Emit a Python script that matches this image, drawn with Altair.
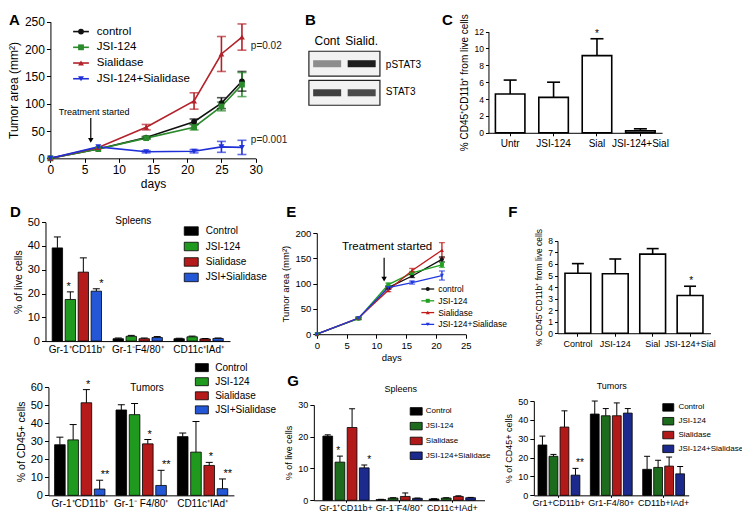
import altair as alt
import pandas as pd

FONT = "Liberation Sans"

# ===================== DATA =====================
# Panel A : tumour growth
A_days = [0, 7, 14, 21, 25, 28]
A_series = ["control", "JSI-124", "Sialidase", "JSI-124+Sialidase"]
A_control = [0, 17, 38, 67, 101, 141]
A_control_sem = [0, 0, 2, 5, 10, 18]
A_jsi = [0, 17, 37, 57, 95, 135]
A_jsi_sem = [0, 0, 2, 5, 8, 22]
A_sial = [0, 20, 57, 105, 191, 222]
A_sial_sem = [0, 0, 5, 15, 32, 24]
A_combo = [0, 21, 12, 13, 21, 20]
A_combo_sem = [0, 0, 2, 3, 10, 13]
A_pvalue_text = ["p=0.02", "p=0.001"]
A_pvalue_day = [29.3, 29.3]
A_pvalue_y = [206, 34]
A_note_text = ["Treatment started"]
A_note_day = [6.4]
A_note_y = [84]
A_arrow_day = [5.9]
A_arrow_top = [74]
A_arrow_tip = [33]

# Panel B : western blot
B_lanes = ["Cont", "Sialid."]
B_proteins = ["pSTAT3", "STAT3"]
B_band_lane = ["Cont", "Sialid.", "Cont", "Sialid."]
B_band_protein = ["pSTAT3", "pSTAT3", "STAT3", "STAT3"]
B_band_intensity = [0.45, 0.95, 0.8, 0.75]

# Panel C
C_cats = ["Untr", "JSI-124", "Sial", "JSI-124+Sial"]
C_vals = [4.6, 4.2, 9.15, 0.23]
C_hi = [6.25, 6.0, 11.15, 0.47]
C_star = ["", "", "*", ""]

# Panel D : spleens / tumors
D_series = ["Control", "JSI-124", "Sialidase", "JSI+Sialidase"]
D_spl_groups = ["Gr-1⁺CD11b⁺", "Gr-1⁻F4/80⁺", "CD11c⁺IAd⁺"]
D_spl_control = [39.2, 1.0, 1.0]
D_spl_control_hi = [43.8, 1.3, 1.2]
D_spl_jsi = [17.5, 2.0, 1.8]
D_spl_jsi_hi = [20.7, 2.4, 2.1]
D_spl_sial = [29.0, 1.0, 0.9]
D_spl_sial_hi = [35.0, 1.3, 1.1]
D_spl_combo = [21.0, 1.5, 1.1]
D_spl_combo_hi = [22.0, 1.9, 1.3]
D_spl_stars = [["", "", ""], ["*", "", ""], ["", "", ""], ["*", "", ""]]

D_tum_groups = ["Gr-1⁺CD11b⁺", "Gr-1⁻ F4/80⁺", "CD11c⁺IAd⁺"]
D_tum_control = [28.1, 47.4, 32.6]
D_tum_control_hi = [32.3, 50.3, 34.6]
D_tum_jsi = [30.8, 44.8, 24.0]
D_tum_jsi_hi = [39.3, 51.0, 41.0]
D_tum_sial = [51.4, 28.6, 16.6]
D_tum_sial_hi = [58.7, 31.0, 18.3]
D_tum_combo = [3.5, 5.5, 3.7]
D_tum_combo_hi = [8.4, 13.9, 9.1]
D_tum_stars = [["", "", ""], ["", "", ""], ["*", "*", "*"], ["**", "**", "**"]]

# Panel E : tumour growth (second model)
E_days = [0, 7, 12, 16, 21]
E_series = ["control", "JSI-124", "Sialidase", "JSI-124+Sialidase"]
E_control = [0, 31, 92, 115, 148]
E_control_sem = [0, 2, 3, 3, 5]
E_jsi = [0, 31, 98, 121, 137]
E_jsi_sem = [0, 2, 3, 3, 5]
E_sial = [0, 32, 87, 126, 166]
E_sial_sem = [0, 2, 3, 4, 15]
E_combo = [0, 32, 92, 102, 116]
E_combo_sem = [0, 2, 3, 3, 9]
E_note_text = ["Treatment started"]
E_note_day = [11.8]
E_note_y = [172]
E_arrow_day = [11.3]
E_arrow_top = [151]
E_arrow_tip = [109]

# Panel F
F_cats = ["Control", "JSI-124", "Sial", "JSI-124+Sial"]
F_vals = [5.2, 5.15, 6.85, 3.27]
F_hi = [6.03, 6.43, 7.33, 4.07]
F_star = ["", "", "", "*"]

# Panel G
G_series = ["Control", "JSI-124", "Sialidase", "JSI-124+Sialidase"]
G_spl_groups = ["Gr-1⁺CD11b+", "Gr-1⁻F4/80⁺", "CD11c+IAd+"]
G_spl_control = [20.2, 0.2, 0.4]
G_spl_control_hi = [20.6, 0.3, 0.5]
G_spl_jsi = [12.0, 0.7, 0.7]
G_spl_jsi_hi = [13.9, 0.8, 0.8]
G_spl_sial = [22.9, 1.2, 1.2]
G_spl_sial_hi = [28.8, 2.3, 1.4]
G_spl_combo = [10.2, 0.6, 0.8]
G_spl_combo_hi = [11.1, 0.7, 0.9]
G_spl_stars = [["", "", ""], ["*", "", ""], ["", "", ""], ["*", "", ""]]

G_tum_groups = ["Gr1+CD11b+", "Gr1-F4/80+", "CD11b+IAd+"]
G_tum_control = [26.7, 43.1, 13.8]
G_tum_control_hi = [31.4, 50.0, 20.7]
G_tum_jsi = [20.7, 42.2, 14.8]
G_tum_jsi_hi = [21.7, 46.0, 18.6]
G_tum_sial = [36.2, 42.2, 15.5]
G_tum_sial_hi = [44.8, 49.0, 20.3]
G_tum_combo = [10.7, 43.6, 11.4]
G_tum_combo_hi = [14.3, 46.0, 15.3]
G_tum_stars = [["", "", ""], ["", "", ""], ["", "", ""], ["**", "", ""]]

# ===================== LAYOUT HELPERS =====================
W, H = 734, 507
SX, SY = 734 / 744, 507 / 516


def px(x):
    return (x - 5) * SX


def py(y):
    return (y - 5) * SY


def left_off(x):
    return -px(x)


def bottom_off(y):
    return py(y) - H


def make_axis(orient, offset, lab_fs, title_fs, values=None, title=None, **extra):
    kw = dict(orient=orient, offset=offset, title=title, labelFontSize=lab_fs,
              titleFontSize=title_fs, labelAngle=0, labelOverlap=False,
              labelFlush=False, grid=False)
    if values is not None:
        kw["values"] = values
    kw.update(extra)
    return alt.Axis(**kw)


def text_at(text, x, y, size, weight="normal", align="left", baseline="middle"):
    return alt.Chart(pd.DataFrame({"t": [text]})).mark_text(
        align=align, baseline=baseline, fontSize=size, fontWeight=weight,
        font=FONT, color="black").encode(
        x=alt.value(px(x)), y=alt.value(py(y)), text="t:N")


def line_panel(days, series, means, sems, colors, shapes, xr, yr, xdom, ydom,
               xticks, yticks, xtitle, ytitle, lab_fs, title_fs, pt_size, cap_w, sw,
               note_text, note_day, note_y, note_fs, arrow_day, arrow_top, arrow_tip):
    rows = []
    for s, m, e in zip(series, means, sems):
        for d, v, err in zip(days, m, e):
            rows.append({"series": s, "day": d, "value": v,
                         "lo": v - err, "hi": v + err, "err": err})
    df = pd.DataFrame(rows)
    xs = alt.Scale(domain=xdom, range=[px(xr[0]), px(xr[1])], nice=False, zero=False)
    ys = alt.Scale(domain=ydom, range=[py(yr[0]), py(yr[1])], nice=False, zero=False)
    cs = alt.Scale(domain=series, range=colors)
    ss = alt.Scale(domain=series, range=shapes)
    xa = make_axis("bottom", bottom_off(yr[0]), lab_fs, title_fs, xticks, xtitle,
                   tickSize=4, labelPadding=2, titlePadding=3)
    ya = make_axis("left", left_off(xr[0]), lab_fs, title_fs, yticks, ytitle,
                   tickSize=4, labelPadding=2, titlePadding=4)
    col = alt.Color("series:N", scale=cs, legend=None)

    def X(a=None):
        return alt.X("day:Q", scale=xs, axis=a)

    def Y(f, a=None):
        return alt.Y(f, scale=ys, axis=a)

    out = []
    out.append(alt.Chart(df).mark_line(strokeWidth=sw).encode(
        x=X(xa), y=Y("value:Q", ya), color=col))
    edf = df[df.err > 0]
    out.append(alt.Chart(edf).mark_rule(strokeWidth=sw).encode(
        x=X(), y=Y("lo:Q"), y2="hi:Q", color=col))
    for f in ["lo:Q", "hi:Q"]:
        out.append(alt.Chart(edf).mark_tick(orient="horizontal", size=cap_w, thickness=sw).encode(
            x=X(), y=Y(f), color=col))
    out.append(alt.Chart(df).mark_point(filled=True, size=pt_size, opacity=1).encode(
        x=X(), y=Y("value:Q"), color=col,
        shape=alt.Shape("series:N", scale=ss, legend=None)))
    # annotation: "Treatment started" + arrow
    ndf = pd.DataFrame({"t": note_text, "day": note_day, "y": note_y})
    out.append(alt.Chart(ndf).mark_text(fontSize=note_fs, font=FONT, color="black",
                                        baseline="middle").encode(
        x=X(), y=Y("y:Q"), text="t:N"))
    adf = pd.DataFrame({"day": arrow_day, "top": arrow_top, "tip": arrow_tip})
    out.append(alt.Chart(adf).mark_rule(color="black", strokeWidth=1.2).encode(
        x=X(), y=Y("top:Q"), y2="tip:Q"))
    out.append(alt.Chart(adf).mark_point(shape="triangle-down", filled=True, size=30,
                                         color="black", opacity=1).encode(
        x=X(), y=Y("tip:Q")))
    return out, X, Y


def line_legend(series, colors, shapes, x0, x1, xt, first, last, fs, pt_size, sw):
    df = pd.DataFrame({"series": series})
    ys = alt.Scale(type="point", domain=series, range=[py(first), py(last)], padding=0)
    cs = alt.Scale(domain=series, range=colors)
    ss = alt.Scale(domain=series, range=shapes)
    Y = alt.Y("series:N", scale=ys, axis=None)
    col = alt.Color("series:N", scale=cs, legend=None)
    return [
        alt.Chart(df).mark_rule(strokeWidth=sw).encode(
            x=alt.value(px(x0)), x2=alt.value(px(x1)), y=Y, color=col),
        alt.Chart(df).mark_point(filled=True, size=pt_size, opacity=1).encode(
            x=alt.value(px((x0 + x1) / 2)), y=Y, color=col,
            shape=alt.Shape("series:N", scale=ss, legend=None)),
        alt.Chart(df).mark_text(align="left", baseline="middle", fontSize=fs, font=FONT,
                                color="black").encode(
            x=alt.value(px(xt)), y=Y, text="series:N"),
    ]


def bar_legend(sym_left, sym_w, sym_h, fs, first, spacing, label_x):
    s = sym_h
    a = sym_w / s
    path = f"M-{a:.3f},-1H{a:.3f}V1H-{a:.3f}Z"
    rowh = max(s, fs)
    lx = px(sym_left + sym_w / 2) - s / 2
    return alt.Legend(orient="none", legendX=lx, legendY=py(first) - rowh / 2,
                      title=None, symbolType=path, symbolSize=s * s,
                      symbolStrokeColor="black", symbolStrokeWidth=0.8, symbolOpacity=1,
                      labelFontSize=fs, labelFont=FONT, labelColor="black",
                      rowPadding=spacing * SY - rowh, labelOffset=px(label_x) - lx - s,
                      padding=0, offset=0, labelLimit=0)


def grouped_panel(groups, series, vals, his, stars, colors, xr, pi, po, yr, ydom, yticks,
                  ytitle, lab_fs, xlab_fs, title_fs, cap_w, star_fs, legend, xticks_on,
                  sub_pi=0.2, bar_sw=0.8):
    rows = []
    for s, v, h, st in zip(series, vals, his, stars):
        for g, vv, hh, ss in zip(groups, v, h, st):
            rows.append({"group": g, "series": s, "value": vv, "hi": hh, "star": ss})
    df = pd.DataFrame(rows)
    xs = alt.Scale(domain=groups, range=[px(xr[0]), px(xr[1])], paddingInner=pi,
                   paddingOuter=po)
    os_ = alt.Scale(domain=series, paddingInner=sub_pi, paddingOuter=0)
    ys = alt.Scale(domain=ydom, range=[py(yr[0]), py(yr[1])], nice=False, zero=True)
    cs = alt.Scale(domain=series, range=colors)
    xa = make_axis("bottom", bottom_off(yr[0]), xlab_fs, title_fs, None, None,
                   ticks=xticks_on, tickSize=2, labelPadding=1 if xticks_on else 3)
    ya = make_axis("left", left_off(xr[0]), lab_fs, title_fs, yticks, ytitle,
                   tickSize=4, labelPadding=2, titlePadding=4)
    XO = alt.XOffset("series:N", scale=os_)

    def X(a=None):
        return alt.X("group:N", scale=xs, axis=a)

    def Y(f, a=None):
        return alt.Y(f, scale=ys, axis=a)

    out = [
        alt.Chart(df).mark_bar(stroke="black", strokeWidth=bar_sw).encode(
            x=X(xa), xOffset=XO, y=Y("value:Q", ya),
            color=alt.Color("series:N", scale=cs, legend=legend)),
        alt.Chart(df).mark_rule(color="black", strokeWidth=1).encode(
            x=X(), xOffset=XO, y=Y("value:Q"), y2="hi:Q"),
        alt.Chart(df).mark_tick(orient="horizontal", size=cap_w, thickness=1,
                                color="black", opacity=1).encode(
            x=X(), xOffset=XO, y=Y("hi:Q")),
        alt.Chart(df[df.star != ""]).mark_text(baseline="bottom", fontSize=star_fs,
                                               font=FONT, color="black").encode(
            x=X(), xOffset=XO, y=Y("hi:Q"), text="star:N"),
    ]
    return out


def single_panel(cats, vals, his, stars, xr, pi, po, yr, ydom, yticks, ytitle, lab_fs,
                 xlab_fs, title_fs, cap_w, star_fs):
    df = pd.DataFrame({"cat": cats, "value": vals, "hi": his, "star": stars})
    xs = alt.Scale(domain=cats, range=[px(xr[0]), px(xr[1])], paddingInner=pi,
                   paddingOuter=po)
    ys = alt.Scale(domain=ydom, range=[py(yr[0]), py(yr[1])], nice=False, zero=True)
    xa = make_axis("bottom", bottom_off(yr[0]), xlab_fs, title_fs, None, None,
                   ticks=True, tickSize=3, labelPadding=3)
    ya = make_axis("left", left_off(xr[0]), lab_fs, title_fs, yticks, ytitle,
                   tickSize=3, labelPadding=2, titlePadding=4)

    def X(a=None):
        return alt.X("cat:N", scale=xs, axis=a)

    def Y(f, a=None):
        return alt.Y(f, scale=ys, axis=a)

    return [
        alt.Chart(df).mark_bar(fill="white", stroke="black", strokeWidth=1.6).encode(
            x=X(xa), y=Y("value:Q", ya)),
        alt.Chart(df).mark_rule(color="black", strokeWidth=1.6).encode(
            x=X(), y=Y("value:Q"), y2="hi:Q"),
        alt.Chart(df).mark_tick(orient="horizontal", size=cap_w, thickness=1.6,
                                color="black", opacity=1).encode(x=X(), y=Y("hi:Q")),
        alt.Chart(df[df.star != ""]).mark_text(baseline="bottom", fontSize=star_fs,
                                               font=FONT, color="black").encode(
            x=X(), y=Y("hi:Q"), text="star:N"),
    ]


layers = []

# ---------- Panel A ----------
A_colors = ["#111111", "#2b8a2b", "#b3222a", "#2030d8"]
A_shapes = ["circle", "square", "triangle-up", "triangle-down"]
la, _, _ = line_panel(
    A_days, A_series, [A_control, A_jsi, A_sial, A_combo],
    [A_control_sem, A_jsi_sem, A_sial_sem, A_combo_sem], A_colors, A_shapes,
    (48, 256), (158, 19), [0, 30], [0, 250], list(range(0, 31, 5)),
    list(range(0, 251, 50)), "days", "Tumor area (mm²)", 12, 12, 34, 9, 1.6,
    A_note_text, A_note_day, A_note_y, 9, A_arrow_day, A_arrow_top, A_arrow_tip)
layers += la
# p-values
pv_df = pd.DataFrame({"t": A_pvalue_text, "day": A_pvalue_day, "y": A_pvalue_y})
A_xs = alt.Scale(domain=[0, 30], range=[px(48), px(256)], nice=False, zero=False)
A_ys = alt.Scale(domain=[0, 250], range=[py(158), py(19)], nice=False, zero=False)
layers.append(alt.Chart(pv_df).mark_text(align="left", baseline="middle", fontSize=10,
                                         font=FONT, color="#222").encode(
    x=alt.X("day:Q", scale=A_xs, axis=None), y=alt.Y("y:Q", scale=A_ys, axis=None),
    text="t:N"))
layers += line_legend(A_series, A_colors, A_shapes, 71, 87, 95, 29, 77, 11.5, 34, 1.6)

# ---------- Panel B (blot) ----------
blot_x = alt.Scale(domain=B_lanes, range=[px(311), px(381)], paddingInner=0.08,
                   paddingOuter=0.04)
blot_y = alt.Scale(domain=B_proteins, range=[py(49), py(104)], paddingInner=0.14,
                   paddingOuter=0)
layers.append(alt.Chart(pd.DataFrame({"protein": B_proteins})).mark_rect(
    fill="#f2f2f2", stroke="#222222", strokeWidth=1.2).encode(
    x=alt.value(px(310)), x2=alt.value(px(382)),
    y=alt.Y("protein:N", scale=blot_y, axis=None)))
layers.append(alt.Chart(pd.DataFrame({"lane": B_band_lane, "protein": B_band_protein,
                                      "intensity": B_band_intensity})).mark_tick(
    orient="horizontal", size=28, thickness=7, color="#111111").encode(
    x=alt.X("lane:N", scale=blot_x, axis=None),
    y=alt.Y("protein:N", scale=blot_y, axis=None),
    opacity=alt.Opacity("intensity:Q", scale=None)))
layers.append(alt.Chart(pd.DataFrame({"lane": B_lanes})).mark_text(
    fontSize=12, font=FONT, color="black", baseline="middle").encode(
    x=alt.X("lane:N", scale=blot_x, axis=None), y=alt.value(py(39)), text="lane:N"))
layers.append(alt.Chart(pd.DataFrame({"protein": B_proteins})).mark_text(
    fontSize=10, font=FONT, color="black", align="left", baseline="middle").encode(
    x=alt.value(px(388)), y=alt.Y("protein:N", scale=blot_y, axis=None),
    text="protein:N"))

# ---------- Panel C ----------
layers += single_panel(C_cats, C_vals, C_hi, C_star, (492, 668), 0.32, 0.16, (132, 29),
                       [0, 12], list(range(0, 13, 2)), "% CD45⁺CD11b⁺ from live cells",
                       8.5, 10, 10, 13, 10)

# ---------- Panel D ----------
D_colors = ["#000000", "#1f9a1f", "#b51b1b", "#2457d6"]
layers += grouped_panel(
    D_spl_groups, D_series, [D_spl_control, D_spl_jsi, D_spl_sial, D_spl_combo],
    [D_spl_control_hi, D_spl_jsi_hi, D_spl_sial_hi, D_spl_combo_hi], D_spl_stars,
    D_colors, (43, 230), 0.19, 0.11, (344, 223), [0, 50], list(range(0, 51, 10)),
    "% of live cells", 11, 10, 10.5, 7, 11,
    bar_legend(183, 14, 8.5, 10, 232, 13.7, 204), False)
layers += grouped_panel(
    D_tum_groups, D_series, [D_tum_control, D_tum_jsi, D_tum_sial, D_tum_combo],
    [D_tum_control_hi, D_tum_jsi_hi, D_tum_sial_hi, D_tum_combo_hi], D_tum_stars,
    D_colors, (46, 234), 0.18, 0.1, (501, 391), [0, 60], list(range(0, 61, 10)),
    "% of CD45+ cells", 11, 10, 10.5, 7, 11,
    bar_legend(194, 13, 8, 10, 371, 12.3, 213), False)

# ---------- Panel E ----------
E_colors = ["#111111", "#22a022", "#c01c1c", "#2238e0"]
le, _, _ = line_panel(
    E_days, E_series, [E_control, E_jsi, E_sial, E_combo],
    [E_control_sem, E_jsi_sem, E_sial_sem, E_combo_sem], E_colors, A_shapes,
    (318, 469), (337, 234), [0, 25], [0, 200], list(range(0, 26, 5)),
    list(range(0, 201, 50)), "days", "Tumor area (mm²)", 9.5, 9.5, 16, 6, 1.3,
    E_note_text, E_note_day, E_note_y, 11.5, E_arrow_day, E_arrow_top, E_arrow_tip)
layers += le
layers += line_legend(E_series, E_colors, A_shapes, 424, 437, 441, 291, 327, 8.5, 16, 1.3)

# ---------- Panel F ----------
layers += single_panel(F_cats, F_vals, F_hi, F_star, (562, 717), 0.31, 0.2, (336, 242),
                       [0, 8], list(range(0, 9)), "% CD45⁺CD11b⁺ from live cells",
                       8.5, 9, 8.5, 12, 10)

# ---------- Panel G ----------
G_colors = ["#000000", "#1d6b1d", "#b21a1a", "#1b2a8c"]
layers += grouped_panel(
    G_spl_groups, G_series, [G_spl_control, G_spl_jsi, G_spl_sial, G_spl_combo],
    [G_spl_control_hi, G_spl_jsi_hi, G_spl_sial_hi, G_spl_combo_hi], G_spl_stars,
    G_colors, (315, 488), 0.13, 0.17, (506, 409), [0, 30], [0, 10, 20, 30],
    "% of live cells", 9, 9, 9, 6, 10,
    bar_legend(412, 12, 7.5, 8, 415, 12, 427), True)
layers += grouped_panel(
    G_tum_groups, G_series, [G_tum_control, G_tum_jsi, G_tum_sial, G_tum_combo],
    [G_tum_control_hi, G_tum_jsi_hi, G_tum_sial_hi, G_tum_combo_hi], G_tum_stars,
    G_colors, (538, 695), 0.2, 0.08, (501, 405), [0, 50], list(range(0, 51, 10)),
    "% of CD45+ cells", 9, 9, 9, 6, 10,
    bar_legend(668, 11, 7.5, 8, 411, 11, 683), True)

# ---------- Titles and panel letters ----------
layers += [
    text_at("Spleens", 132, 222, 10, align="center"),
    text_at("Tumors", 146, 392, 10, align="center"),
    text_at("Spleens", 403, 393, 9, align="center"),
    text_at("Tumors", 617, 390, 9, align="center"),
    text_at("A", 6, 17, 15, weight="bold"),
    text_at("B", 306, 17, 15, weight="bold"),
    text_at("C", 445, 17, 15, weight="bold"),
    text_at("D", 7, 213, 15, weight="bold"),
    text_at("E", 287, 213, 15, weight="bold"),
    text_at("F", 512, 213, 15, weight="bold"),
    text_at("G", 288, 385, 15, weight="bold"),
]

chart = alt.layer(*layers).resolve_scale(
    x="independent", y="independent", color="independent", shape="independent",
    xOffset="independent", opacity="independent"
).properties(
    width=W, height=H, autosize=alt.AutoSizeParams(type="none"), padding=0
).configure_view(stroke=None).configure_axis(
    domainColor="black", tickColor="black", labelColor="black", titleColor="black",
    labelFont=FONT, titleFont=FONT, titleFontWeight="normal", domainWidth=1, tickWidth=1
)

chart.save("out.html", embed_options={"renderer": "svg", "actions": False})
